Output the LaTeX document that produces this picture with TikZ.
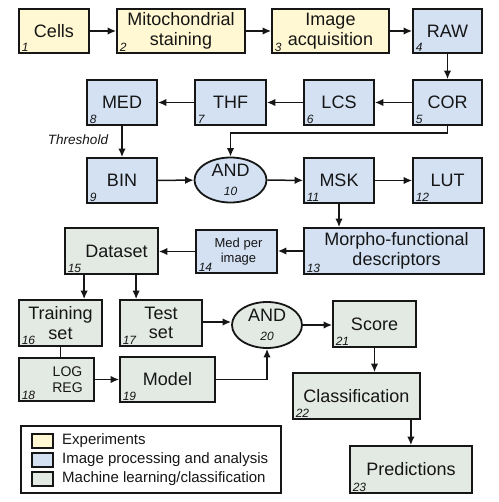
\documentclass[tikz,border=0pt]{standalone}
\usepackage{fontspec}
\setmainfont{Liberation Sans}
\usetikzlibrary{arrows.meta,shapes.geometric,calc}
\definecolor{yel}{HTML}{FFF8D2}
\definecolor{blu}{HTML}{D3E1F3}
\definecolor{grn}{HTML}{E3E9E3}
\definecolor{ink}{HTML}{161616}
\newcommand{\numf}{\fontsize{12}{12}\selectfont\itshape}
\begin{document}
\begin{tikzpicture}[x=1pt,y=-1pt,
  box/.style={draw=ink,line width=1.8pt,rectangle,inner sep=0pt,align=center,
    font=\fontsize{18}{19.5}\selectfont,text=ink},
  yb/.style={box,fill=yel},
  bb/.style={box,fill=blu},
  gb/.style={box,fill=grn},
  ell/.style={draw=ink,line width=1.8pt,ellipse,inner sep=0pt,align=center,
    font=\fontsize{18}{19.5}\selectfont,text=ink,fill=blu},
  num/.style={anchor=south west,inner sep=1pt,font=\numf,text=ink},
  arr/.style={draw=ink,line width=1.5pt,-{Latex[length=8.5pt,width=7.5pt]}},
  ln/.style={draw=ink,line width=1.5pt},
  sw/.style={draw=ink,line width=1.5pt,minimum width=21pt,minimum height=14pt,inner sep=0pt},
  lt/.style={anchor=west,inner sep=0pt,font=\fontsize{15}{15}\selectfont,text=ink}
]
\useasboundingbox (0,0) rectangle (498,502);

% row 1
\node[yb,minimum width=70pt,minimum height=44pt] (n1) at (54,31) {Cells};
\node[yb,minimum width=128pt,minimum height=44pt] (n2) at (181,31) {Mitochondrial\\staining};
\node[yb,minimum width=117pt,minimum height=44pt] (n3) at (330.5,31) {Image\\acquisition};
\node[bb,minimum width=69pt,minimum height=44pt] (n4) at (447.5,31) {RAW};
% row 2
\node[bb,minimum width=69pt,minimum height=45pt] (n5) at (447.5,102.5) {COR};
\node[bb,minimum width=70pt,minimum height=45pt] (n6) at (339,102.5) {LCS};
\node[bb,minimum width=71pt,minimum height=45pt] (n7) at (230.5,102.5) {THF};
\node[bb,minimum width=70pt,minimum height=45pt] (n8) at (122,102.5) {MED};
% row 3
\node[bb,minimum width=70pt,minimum height=45pt] (n9) at (122,180.5) {BIN};
\node[ell,minimum width=72pt,minimum height=45pt] (n10) at (230.5,180) {AND\\[-1pt]{\numf 10}};
\node[bb,minimum width=70pt,minimum height=45pt] (n11) at (339,180.5) {MSK};
\node[bb,minimum width=69pt,minimum height=45pt] (n12) at (447.5,180.5) {LUT};
% row 4
\node[bb,minimum width=180pt,minimum height=46pt] (n13) at (394,251) {\hspace*{5pt}Morpho-functional\\\hspace*{5pt}descriptors};
\node[bb,minimum width=81pt,minimum height=43pt,font=\fontsize{13}{15}\selectfont] (n14) at (236.5,251.5) {\hspace*{4pt}Med per\\\hspace*{4pt}image};
\node[gb,minimum width=93pt,minimum height=46pt] (n15) at (111.5,251) {\hspace*{10pt}Dataset};
% row 5
\node[gb,minimum width=83pt,minimum height=46pt] (n16) at (60.5,323) {Training\\set};
\node[gb,minimum width=82pt,minimum height=46pt] (n17) at (161,323) {Test\\set};
\node[ell,fill=grn,minimum width=70pt,minimum height=46pt] (n20) at (267,325) {AND\\[-1pt]{\numf 20}};
\node[gb,minimum width=83pt,minimum height=46pt] (n21) at (374.5,324) {Score};
% row 6
\node[gb,minimum width=75pt,minimum height=43pt,font=\fontsize{14}{16}\selectfont] (n18) at (56.5,379.5) {\hspace*{22pt}LOG\\\hspace*{22pt}REG};
\node[gb,minimum width=95pt,minimum height=45pt] (n19) at (167.5,379.5) {Model};
\node[gb,minimum width=127pt,minimum height=46pt] (n22) at (356.5,396) {Classification};
\node[gb,minimum width=122pt,minimum height=47pt] (n23) at (411,469.5) {Predictions};

% numbers
\foreach \n/\t in {n1/1,n2/2,n3/3,n4/4,n5/5,n6/6,n7/7,n8/8,n9/9,n11/11,n12/12,n13/13,n14/14,n15/15,n16/16,n17/17,n18/18,n19/19,n21/21,n22/22,n23/23}
  \node[num] (num\t) at ([xshift=2.5pt,yshift=1.5pt]\n.south west) {\t};

% threshold label
\node[font=\fontsize{13.5}{14}\selectfont\itshape,text=ink,inner sep=0pt] (thr) at (78,140) {Threshold};

% connectors
\draw[arr] (n1) -- (n2);
\draw[arr] (n2) -- (n3);
\draw[arr] (n3) -- (n4);
\draw[arr] (n4) -- (n5);
\draw[arr] (n5) -- (n6);
\draw[arr] (n6) -- (n7);
\draw[arr] (n7) -- (n8);
\draw[arr] (n8) -- (n9);
\coordinate (c5) at ([yshift=-7pt]n5.south);
\draw[arr] (n5.south) -- (c5) -| (n10.north);
\draw[arr] (n9) -- (n10);
\draw[arr] (n10) -- (n11);
\draw[arr] (n11) -- (n12);
\draw[arr] (n11.south) -- (n11.south |- n13.north);
\draw[arr] (n13.west) -- (n13.west -| n14.east);
\draw[arr] (n14.west) -- (n14.west -| n15.east);
\coordinate (c15a) at ([xshift=20pt]n15.south west);
\coordinate (c15b) at ([xshift=72pt]n15.south west);
\draw[arr] (c15a) -- (c15a |- n16.north);
\draw[arr] (c15b) -- (c15b |- n17.north);
\draw[ln] (n16.south) -- (n16.south |- n18.north);
\draw[arr] (n18.east) -- (n18.east -| n19.west);
\draw[arr] ([yshift=1pt]n17.east) -- ([yshift=1pt]n17.east -| n20.west);
\draw[arr] (n20.east) -- (n20.east -| n21.west);
\draw[arr] (n19.east) -| (n20.south);
\draw[arr] (n21.south) -- (n21.south |- n22.north);
\coordinate (c22) at ([xshift=-10pt]n22.south east);
\draw[arr] (c22) -- (c22 |- n23.north);

% legend
\node[draw=ink,line width=1.6pt,minimum width=260pt,minimum height=67pt,inner sep=0pt] (leg) at (151,459.5) {};
\node[sw,fill=yel] (s1) at (42.5,441) {};
\node[sw,fill=blu] (s2) at (42.5,460) {};
\node[sw,fill=grn] (s3) at (42.5,479) {};
\node[lt] (t1) at (62,441) {Experiments};
\node[lt] (t2) at (62,460) {Image processing and analysis};
\node[lt] (t3) at (62,479) {Machine learning/classification};
\end{tikzpicture}
\end{document}
